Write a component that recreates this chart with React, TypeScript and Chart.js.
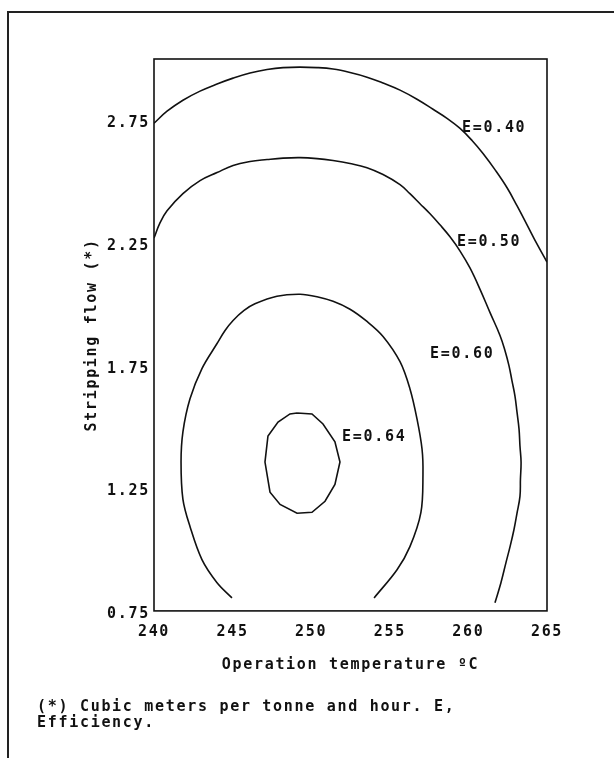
import { useEffect, useRef } from "react";
import { Chart, registerables } from "chart.js";

Chart.register(...registerables);

const FONT = "'DejaVu Sans Mono', monospace";
const INK = "#111";
const SPACING = "1.7px";

// Axis ticks
const temperatureTicks = [240, 245, 250, 255, 260, 265];
const flowTicks = [0.75, 1.25, 1.75, 2.25, 2.75];

// Iso-efficiency contours: [temperature °C, stripping flow]
const contour040: number[][] = [
  [240.0, 2.738], [240.83, 2.787], [241.84, 2.832], [242.93, 2.869], [244.01, 2.898],
  [245.03, 2.922], [246.11, 2.943], [247.19, 2.957], [248.21, 2.965], [249.29, 2.967],
  [250.37, 2.965], [251.39, 2.959], [252.47, 2.945], [253.55, 2.926], [254.57, 2.902],
  [255.65, 2.873], [256.73, 2.836], [257.75, 2.795], [258.64, 2.758], [259.47, 2.717],
  [260.23, 2.668], [260.93, 2.615], [261.69, 2.549], [262.46, 2.475], [263.09, 2.402],
  [263.73, 2.324], [264.36, 2.246], [265.0, 2.172],
];

const contour050: number[][] = [
  [240.0, 2.27], [240.38, 2.332], [240.83, 2.381], [241.84, 2.451], [242.93, 2.504],
  [244.01, 2.537], [245.03, 2.566], [246.11, 2.582], [247.19, 2.59], [248.21, 2.596],
  [249.29, 2.598], [250.37, 2.594], [251.39, 2.586], [252.47, 2.574], [253.55, 2.557],
  [254.57, 2.529], [255.65, 2.488], [256.28, 2.451], [256.92, 2.41], [257.56, 2.369],
  [258.19, 2.324], [258.83, 2.275], [259.47, 2.217], [260.1, 2.148], [260.74, 2.061],
  [261.37, 1.967], [262.01, 1.873], [262.33, 1.811], [262.58, 1.75], [262.77, 1.689],
  [262.96, 1.627], [263.09, 1.561], [263.22, 1.492], [263.28, 1.422], [263.35, 1.357],
  [263.31, 1.287], [263.28, 1.217], [263.09, 1.148], [262.9, 1.082], [262.65, 1.012],
  [262.39, 0.947], [262.07, 0.865], [261.69, 0.783],
];

const contour060: number[][] = [
  [244.96, 0.803], [244.01, 0.865], [243.05, 0.959], [242.29, 1.094], [241.84, 1.205],
  [241.72, 1.357], [241.84, 1.48], [242.29, 1.615], [243.05, 1.738], [244.01, 1.84],
  [244.52, 1.893], [245.03, 1.934], [245.73, 1.975], [246.42, 2.002], [247.82, 2.033],
  [249.29, 2.041], [250.37, 2.031], [251.39, 2.012], [252.47, 1.98], [253.55, 1.93],
  [254.57, 1.869], [255.65, 1.766], [256.28, 1.656], [256.73, 1.533], [257.05, 1.41],
  [257.11, 1.307], [256.98, 1.152], [256.28, 1.012], [255.46, 0.918], [254.0, 0.803],
];

const contour064: number[][] = [
  [249.1, 1.557], [250.05, 1.553], [250.75, 1.512], [251.51, 1.439], [251.83, 1.357],
  [251.51, 1.266], [250.88, 1.197], [250.05, 1.152], [249.1, 1.148], [248.02, 1.184],
  [247.38, 1.234], [247.06, 1.357], [247.25, 1.463], [247.89, 1.52], [248.65, 1.553],
  [249.1, 1.557],
];

const levelNames = ["E=0.40", "E=0.50", "E=0.60", "E=0.64"];
// Where each level name sits (temperature, flow)
const levelLabelAt: number[][] = [
  [259.59, 2.729],
  [259.27, 2.266],
  [257.56, 1.811],
  [251.96, 1.471],
];

const footnote = ["(*) Cubic meters per tonne and hour. E,", "Efficiency."];

const toPoints = (rows: number[][]) => rows.map(([x, y]) => ({ x, y }));

const spacingPlugin = {
  id: "spacing",
  beforeLayout(chart: any) {
    chart.ctx.letterSpacing = SPACING;
  },
  beforeDraw(chart: any) {
    chart.ctx.letterSpacing = SPACING;
  },
};

const framePlugin = {
  id: "frame",
  beforeDatasetsDraw(chart: any) {
    const { ctx, chartArea } = chart;
    ctx.save();
    ctx.strokeStyle = INK;
    ctx.lineWidth = 1.6;
    ctx.strokeRect(chartArea.left, chartArea.top, chartArea.right - chartArea.left, chartArea.bottom - chartArea.top);
    ctx.restore();
  },
};

const levelLabelPlugin = {
  id: "levelLabels",
  afterDatasetsDraw(chart: any) {
    const { ctx, scales } = chart;
    ctx.save();
    ctx.letterSpacing = SPACING;
    ctx.fillStyle = INK;
    ctx.font = `bold 15px ${FONT}`;
    ctx.textAlign = "left";
    ctx.textBaseline = "middle";
    levelNames.forEach((name, i) => {
      const [t, f] = levelLabelAt[i];
      ctx.fillText(name, scales.x.getPixelForValue(t), scales.y.getPixelForValue(f) + 3);
    });
    ctx.restore();
  },
};

export default function App() {
  const canvasRef = useRef<HTMLCanvasElement>(null);

  useEffect(() => {
    const canvas = canvasRef.current;
    if (!canvas) return;
    const line = (rows: number[][], tension: number) => ({
      data: toPoints(rows),
      showLine: true,
      borderColor: INK,
      borderWidth: 1.6,
      pointRadius: 0,
      tension,
      fill: false,
    });
    const textFont = { family: FONT, size: 15, weight: "bold" as const, lineHeight: 1.07 };
    const chart = new Chart(canvas, {
      type: "scatter",
      data: {
        datasets: [
          line(contour040, 0.4),
          line(contour050, 0.4),
          line(contour060, 0.35),
          line(contour064, 0),
        ],
      },
      options: {
        responsive: false,
        animation: false,
        devicePixelRatio: 1,
        layout: { padding: { top: 59, right: 67, bottom: 27, left: 37 } },
        plugins: {
          legend: { display: false },
          tooltip: { enabled: false },
          title: {
            display: true,
            position: "bottom",
            align: "start",
            text: footnote,
            color: INK,
            font: textFont,
            padding: 0,
          },
        },
        scales: {
          x: {
            type: "linear",
            min: 240,
            max: 265,
            afterBuildTicks: (scale: any) => {
              scale.ticks = temperatureTicks.map((value) => ({ value }));
            },
            afterFit: (scale: any) => {
              scale.height = 88;
            },
            grid: { display: false, drawTicks: false },
            border: { display: false },
            ticks: {
              color: INK,
              padding: 12,
              maxRotation: 0,
              autoSkip: false,
              font: { family: FONT, size: 15, weight: "bold" },
            },
            title: {
              display: true,
              text: "Operation temperature ºC",
              color: INK,
              font: textFont,
              padding: { top: 0, bottom: 25.5 },
            },
          },
          y: {
            type: "linear",
            min: 0.75,
            max: 3.0,
            afterBuildTicks: (scale: any) => {
              scale.ticks = flowTicks.map((value) => ({ value }));
            },
            afterFit: (scale: any) => {
              scale.width = 117;
            },
            grid: { display: false, drawTicks: false },
            border: { display: false },
            ticks: {
              color: INK,
              padding: 4,
              labelOffset: 3,
              autoSkip: false,
              font: { family: FONT, size: 15, weight: "bold" },
              callback: (v: any) => Number(v).toFixed(2),
            },
            title: {
              display: true,
              text: "Stripping flow (*)",
              color: INK,
              font: textFont,
              padding: { top: 47, bottom: 0 },
            },
          },
        },
      },
      plugins: [spacingPlugin, framePlugin, levelLabelPlugin],
    });
    return () => chart.destroy();
  }, []);

  return (
    <>
      <canvas
        ref={canvasRef}
        width={614}
        height={758}
        style={{ position: "fixed", left: 0, top: 0, background: "#fff" }}
      />
      <div
        style={{
          position: "fixed",
          left: 7,
          top: 11,
          right: 0,
          bottom: 0,
          borderTop: "2px solid #222",
          borderLeft: "2px solid #222",
          pointerEvents: "none",
        }}
      />
    </>
  );
}
